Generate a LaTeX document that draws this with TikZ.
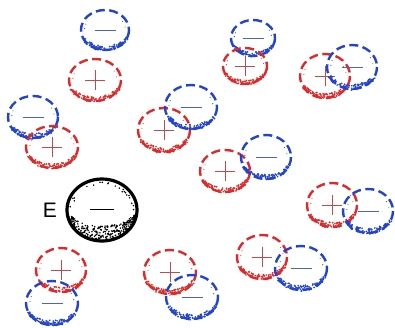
\documentclass[tikz,border=0pt]{standalone}
\usepackage{fontspec}
\setmainfont{Liberation Sans}
\definecolor{ired}{HTML}{DC2A2A}
\definecolor{iblue}{HTML}{2244CC}
\definecolor{sred}{HTML}{C24A4A}
\definecolor{sblue}{HTML}{4A66B4}
\tikzset{
  ionring/.style={line width=2.4pt, dash pattern=on 9pt off 4.5pt},
  signline/.style={line width=0.9pt},
}
% #1 x, #2 y, #3 rx, #4 ry, #5 colour, #6 sign colour, #7 p or m
\newcommand{\chargering}[7]{%
  \begin{scope}[shift={(#1,#2)}]
    \draw[ionring,#5] (0,0) ellipse ({#3} and {#4});
    \foreach \k in {1,...,95}{
      \pgfmathsetmacro{\a}{25+130*rnd}
      \pgfmathsetmacro{\r}{1.05-0.26*rnd*sin(\a)}
      \fill[#5] ({#3*\r*cos(\a)},{#4*\r*sin(\a)}) circle (0.95);
    }
    \foreach \a in {200,330,185,350}{
      \fill[#5] ({0.85*#3*cos(\a)},{0.85*#4*sin(\a)}) circle (0.55);
    }
    \ifx p#7
      \draw[signline,#6] (-10,0) -- (10,0) (0,-10) -- (0,10);
    \else
      \draw[signline,#6] (-10.5,0) -- (10.5,0);
    \fi
  \end{scope}}
\begin{document}
\begin{tikzpicture}[x=1pt,y=-1pt]
\useasboundingbox (0,0) rectangle (395,327);
\pgfmathsetseed{11}
% upper left group
\chargering{105}{30}{24}{20}{iblue}{sblue}{m}
\chargering{95}{80}{26}{21}{ired}{sred}{p}
\chargering{33}{117}{25}{21}{iblue}{sblue}{m}
\chargering{52}{147}{26}{21}{ired}{sred}{p}
% middle pair
\chargering{164}{130}{26}{22}{ired}{sred}{p}
\chargering{191}{107}{26}{22}{iblue}{sblue}{m}
% upper right
\chargering{253}{38}{22}{18}{iblue}{sblue}{m}
\chargering{245}{66}{22}{18}{ired}{sred}{p}
\chargering{325}{76}{25}{22}{ired}{sred}{p}
\chargering{352}{67}{25}{22}{iblue}{sblue}{m}
% centre right
\chargering{225}{171}{25}{21}{ired}{sred}{p}
\chargering{266}{157}{25}{22}{iblue}{sblue}{m}
\chargering{332}{205}{25}{22}{ired}{sred}{p}
\chargering{368}{211}{25}{22}{iblue}{sblue}{m}
% lower
\chargering{262}{257}{25}{22}{ired}{sred}{p}
\chargering{301}{268}{26}{22}{iblue}{sblue}{m}
\chargering{61}{270}{25}{22}{ired}{sred}{p}
\chargering{52}{303}{26}{22}{iblue}{sblue}{m}
\chargering{170}{272}{26}{22}{ired}{sred}{p}
\chargering{192}{297}{26}{22}{iblue}{sblue}{m}
% electron
\begin{scope}[shift={(102,210)}]
  \draw[line width=3.2pt,black] (0,0) ellipse (35 and 31);
  \foreach \k in {1,...,280}{
    \pgfmathsetmacro{\a}{10+160*rnd}
    \pgfmathsetmacro{\r}{1.0-0.5*rnd*sin(\a)}
    \fill[black] ({35*\r*cos(\a)},{31*\r*sin(\a)}) circle (0.85);
  }
  \foreach \k in {1,...,22}{
    \pgfmathsetmacro{\a}{180+180*rnd}
    \pgfmathsetmacro{\r}{0.82+0.1*rnd}
    \fill[black] ({35*\r*cos(\a)},{31*\r*sin(\a)}) circle (0.85);
  }
  \draw[line width=0.9pt,black] (-12,-1) -- (12,-1);
\end{scope}
\node[font=\fontsize{21}{21}\selectfont] (E) at (50,210) {E};
\end{tikzpicture}
\end{document}
